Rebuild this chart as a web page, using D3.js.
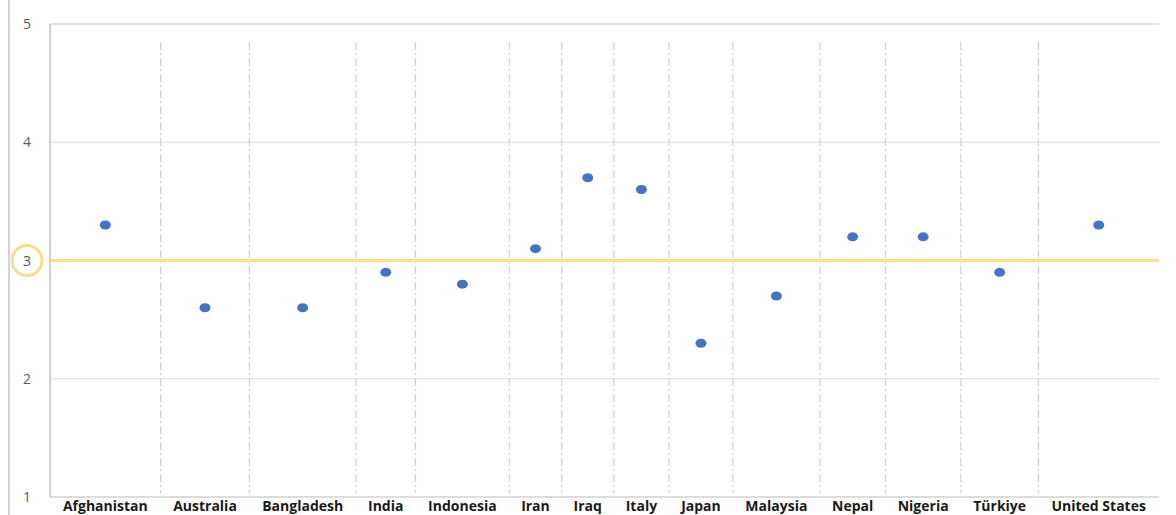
<!DOCTYPE html>
<html>
<head>
<meta charset="utf-8">
<script src="https://cdn.jsdelivr.net/npm/d3@7"></script>
<style>
  body { margin: 0; background: #fff; }
  svg { display: block; }
</style>
</head>
<body>
<div id="chart"></div>
<script>
// data
const countries = ['Afghanistan', 'Australia', 'Bangladesh', 'India', 'Indonesia', 'Iran', 'Iraq',
   'Italy', 'Japan', 'Malaysia', 'Nepal', 'Nigeria', 'Türkiye', 'United States'];
const scores = [3.3, 2.6, 2.6, 2.9, 2.8, 3.1, 3.7, 3.6, 2.3, 2.7, 3.2, 3.2, 2.9, 3.3];
const y_ticks = [1, 2, 3, 4, 5];
const reference_value = 3;

const W = 1176, H = 515;
const margin = {top: 24, right: 17, bottom: 18, left: 50};
const plot_right = W - margin.right;
const plot_bottom = H - margin.bottom;

const svg = d3.select('#chart').append('svg')
   .attr('width', W)
   .attr('height', H);

const label_font = '700 14px "Open Sans", sans-serif';

// measure each label, the column widths follow the label widths
const probe = svg.append('text').style('font', label_font);
const widths = countries.map(c => {
   probe.text(c);
   return probe.node().getComputedTextLength() + 22;
});
probe.remove();

const edges = [0];
widths.forEach(w => edges.push(edges[edges.length - 1] + w));

const x_scale = d3.scaleLinear()
   .domain([0, edges[edges.length - 1]])
   .range([margin.left, plot_right]);

const y_scale = d3.scaleLinear()
   .domain([1, 5])
   .range([plot_bottom, margin.top]);

// outer left rule
svg.append('line')
   .attr('x1', 9).attr('x2', 9)
   .attr('y1', 0).attr('y2', H)
   .attr('stroke', '#d4d4d4')
   .attr('stroke-width', 2);

// horizontal grid
svg.append('g')
   .selectAll('line')
   .data(y_ticks.filter(t => t !== reference_value))
   .join('line')
   .attr('x1', margin.left).attr('x2', plot_right)
   .attr('y1', d => y_scale(d)).attr('y2', d => y_scale(d))
   .attr('stroke', d => d === 5 ? '#e2e2e2' : '#dcdcdc')
   .attr('stroke-width', d => (d === 5 || d === 1) ? 2 : 1);

// left axis line
svg.append('line')
   .attr('x1', margin.left).attr('x2', margin.left)
   .attr('y1', y_scale(5)).attr('y2', y_scale(1))
   .attr('stroke', '#d0d0d0')
   .attr('stroke-width', 2);

// dashed column separators
svg.append('g')
   .selectAll('line')
   .data(edges.slice(1, -1))
   .join('line')
   .attr('x1', d => x_scale(d)).attr('x2', d => x_scale(d))
   .attr('y1', 42).attr('y2', plot_bottom - 4)
   .attr('stroke', '#cfcfcf')
   .attr('stroke-width', 1.2)
   .attr('stroke-dasharray', '8,3,2,3');

// reference line at 3
svg.append('line')
   .attr('x1', margin.left).attr('x2', plot_right)
   .attr('y1', y_scale(reference_value)).attr('y2', y_scale(reference_value))
   .attr('stroke', '#fedf85')
   .attr('stroke-width', 3);

// y tick labels
svg.append('g')
   .selectAll('text')
   .data(y_ticks)
   .join('text')
   .attr('x', 27)
   .attr('y', d => y_scale(d))
   .attr('dy', '0.36em')
   .attr('text-anchor', 'middle')
   .style('font', '14px "Open Sans", sans-serif')
   .attr('fill', '#595959')
   .text(d => d);

// highlight ring round the 3
svg.append('circle')
   .attr('cx', 27)
   .attr('cy', y_scale(reference_value))
   .attr('r', 15)
   .attr('fill', 'none')
   .attr('stroke', '#f9dc8c')
   .attr('stroke-width', 3);

// country labels
svg.append('g')
   .selectAll('text')
   .data(countries)
   .join('text')
   .attr('x', (d, i) => x_scale((edges[i] + edges[i + 1]) / 2))
   .attr('y', 511)
   .attr('text-anchor', 'middle')
   .style('font', label_font)
   .attr('fill', '#1a1a1a')
   .text(d => d);

// points
svg.append('g')
   .selectAll('ellipse')
   .data(scores)
   .join('ellipse')
   .attr('cx', (d, i) => x_scale((edges[i] + edges[i + 1]) / 2))
   .attr('cy', d => y_scale(d))
   .attr('rx', 5.5)
   .attr('ry', 4.5)
   .attr('fill', '#4472c4');
</script>
</body>
</html>
